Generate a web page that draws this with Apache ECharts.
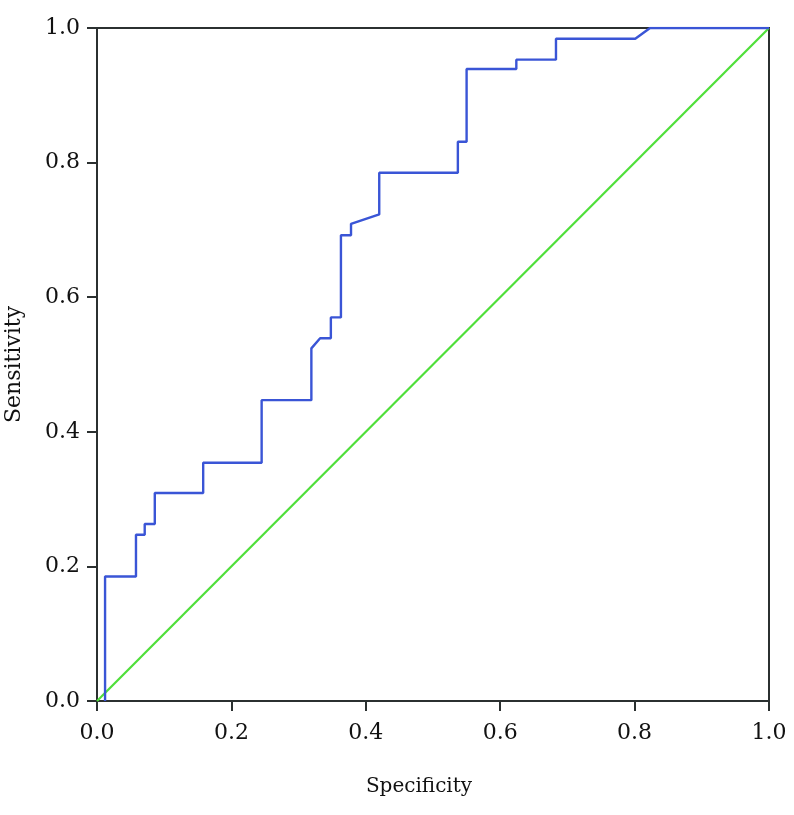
<!DOCTYPE html>
<html>
<head>
<meta charset="utf-8">
<script src="https://cdn.jsdelivr.net/npm/echarts@6/dist/echarts.min.js"></script>
<style>html,body{margin:0;padding:0;background:#fff}#c{width:794px;height:815px}</style>
</head>
<body>
<div id="c"></div>
<script>
// ROC curve points (1 - specificity axis labelled "Specificity")
const rocX = [0.012,0.012,0.058,0.058,0.071,0.071,0.086,0.086,0.158,0.158,0.245,0.245,0.319,0.319,0.332,0.348,0.348,0.363,0.363,0.378,0.378,0.420,0.420,0.537,0.537,0.550,0.550,0.624,0.624,0.683,0.683,0.801,0.823,1.0];
const rocY = [0.0,0.185,0.185,0.247,0.247,0.263,0.263,0.309,0.309,0.354,0.354,0.447,0.447,0.524,0.539,0.539,0.570,0.570,0.692,0.692,0.709,0.723,0.785,0.785,0.831,0.831,0.939,0.939,0.953,0.953,0.984,0.984,1.0,1.0];
const refX = [0, 1];
const refY = [0, 1];
const tickValues = [0, 0.2, 0.4, 0.6, 0.8, 1.0];
const xTitle = 'Specificity';
const yTitle = 'Sensitivity';

const chart = echarts.init(document.getElementById('c'), null, {renderer: 'canvas'});
const font = 'DejaVu Serif';
const axisColor = '#2b3030';
function axis(name, gap, margin, nameSize, namePad) {
  return {
    type: 'value', min: 0, max: 1, interval: 0.2,
    name: name, nameLocation: 'middle', nameGap: gap,
    nameTextStyle: {fontFamily: font, fontSize: nameSize, color: '#111', padding: namePad},
    axisLine: {show: true, lineStyle: {color: axisColor, width: 2}},
    axisTick: {show: true, length: 10, lineStyle: {color: axisColor, width: 2}},
    axisLabel: {fontFamily: font, fontSize: 22, color: '#111', margin: margin,
      formatter: v => tickValues.some(t => Math.abs(t - v) < 1e-9) ? v.toFixed(1) : ''},
    splitLine: {show: false}
  };
}
chart.setOption({
  animation: false,
  backgroundColor: '#fff',
  grid: {left: 97, right: 25, top: 28, bottom: 114, containLabel: false, outerBoundsMode: 'none',
         show: true, borderColor: axisColor, borderWidth: 2, backgroundColor: 'transparent'},
  xAxis: axis(xTitle, 76, 21, 20, [0, 28, 0, 0]),
  yAxis: axis(yTitle, 72, 17, 22, [0, 0, 0, 0]),
  series: [
    {type: 'line', data: refX.map((x, i) => [x, refY[i]]), symbol: 'none',
     lineStyle: {color: '#4fdf3a', width: 2.2}},
    {type: 'line', data: rocX.map((x, i) => [x, rocY[i]]), symbol: 'none',
     lineStyle: {color: '#3a55d6', width: 2.4}}
  ]
});
</script>
</body>
</html>
